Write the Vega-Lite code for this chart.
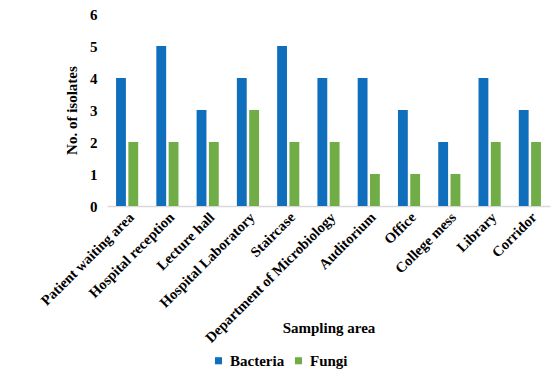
{
  "$schema": "https://vega.github.io/schema/vega-lite/v6.json",
  "autosize": {"type": "none"},
  "width": 443,
  "height": 192,
  "padding": {"left": 107, "top": 14, "right": 3, "bottom": 177},
  "background": "white",
  "data": {"values": [
    {"area": "Patient waiting area", "type": "Bacteria", "count": 4},
    {"area": "Patient waiting area", "type": "Fungi", "count": 2},
    {"area": "Hospital reception", "type": "Bacteria", "count": 5},
    {"area": "Hospital reception", "type": "Fungi", "count": 2},
    {"area": "Lecture hall", "type": "Bacteria", "count": 3},
    {"area": "Lecture hall", "type": "Fungi", "count": 2},
    {"area": "Hospital Laboratory", "type": "Bacteria", "count": 4},
    {"area": "Hospital Laboratory", "type": "Fungi", "count": 3},
    {"area": "Staircase", "type": "Bacteria", "count": 5},
    {"area": "Staircase", "type": "Fungi", "count": 2},
    {"area": "Department of Microbiology", "type": "Bacteria", "count": 4},
    {"area": "Department of Microbiology", "type": "Fungi", "count": 2},
    {"area": "Auditorium", "type": "Bacteria", "count": 4},
    {"area": "Auditorium", "type": "Fungi", "count": 1},
    {"area": "Office", "type": "Bacteria", "count": 3},
    {"area": "Office", "type": "Fungi", "count": 1},
    {"area": "College mess", "type": "Bacteria", "count": 2},
    {"area": "College mess", "type": "Fungi", "count": 1},
    {"area": "Library", "type": "Bacteria", "count": 4},
    {"area": "Library", "type": "Fungi", "count": 2},
    {"area": "Corridor", "type": "Bacteria", "count": 3},
    {"area": "Corridor", "type": "Fungi", "count": 2}
  ]},
  "mark": {"type": "bar"},
  "encoding": {
    "x": {
      "field": "area", "type": "nominal", "sort": null,
      "scale": {"paddingInner": 0.45, "paddingOuter": 0.225},
      "axis": {
        "title": "Sampling area",
        "titleY": 114,
        "titleFont": "Times New Roman, Liberation Serif, DejaVu Serif, serif", "titleFontSize": 15, "titleFontWeight": "bold", "titleColor": "#000",
        "labelAngle": -45, "labelFont": "Times New Roman, Liberation Serif, DejaVu Serif, serif", "labelFontSize": 14.5, "labelFontWeight": "bold", "labelColor": "#000",
        "labelPadding": 4, "ticks": false, "domainColor": "#d9d9d9", "domainWidth": 1.5, "grid": false
      }
    },
    "xOffset": {"field": "type", "type": "nominal", "scale": {"paddingInner": 0.2}},
    "y": {
      "field": "count", "type": "quantitative",
      "scale": {"domain": [0, 6]},
      "axis": {
        "title": "No. of isolates",
        "titleFont": "Times New Roman, Liberation Serif, DejaVu Serif, serif", "titleFontSize": 15, "titleFontWeight": "bold", "titleColor": "#000",
        "titlePadding": 10,
        "labelFont": "Times New Roman, Liberation Serif, DejaVu Serif, serif", "labelFontSize": 15, "labelFontWeight": "bold", "labelColor": "#000",
        "labelPadding": 10, "tickCount": 6, "ticks": false, "domain": false, "grid": false
      }
    },
    "color": {
      "field": "type", "type": "nominal",
      "scale": {"domain": ["Bacteria", "Fungi"], "range": ["#0F6FBD", "#70AD47"]},
      "legend": {
        "title": null, "orient": "none", "direction": "horizontal",
        "legendX": 104, "legendY": 339,
        "symbolType": "square", "symbolSize": 50, "symbolStrokeWidth": 0,
        "labelFont": "Times New Roman, Liberation Serif, DejaVu Serif, serif", "labelFontSize": 15, "labelFontWeight": "bold", "labelColor": "#000",
        "columnPadding": 6
      }
    }
  },
  "config": {"view": {"stroke": null}}
}
